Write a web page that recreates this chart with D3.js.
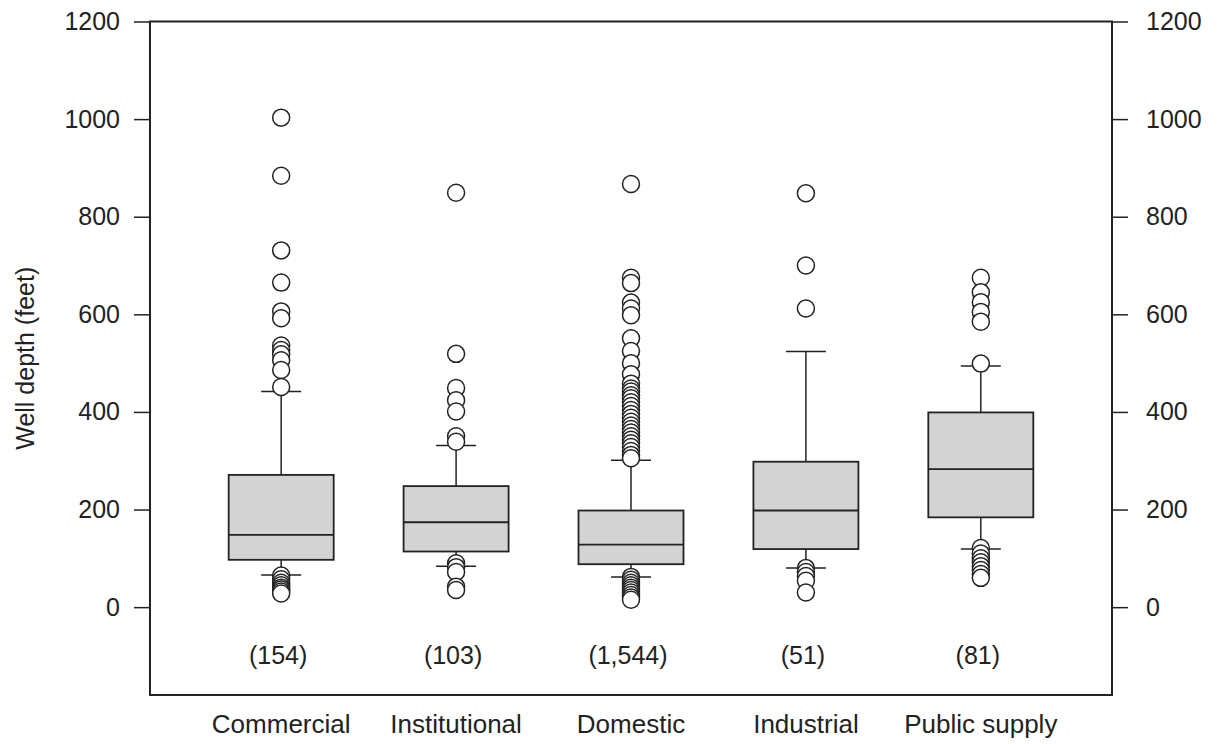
<!DOCTYPE html>
<html>
<head>
<meta charset="utf-8">
<script src="https://cdn.jsdelivr.net/npm/d3@7"></script>
<style>
  body { margin: 0; background: #fff; }
  svg { display: block; }
  text { font-family: "Liberation Sans", Arial, sans-serif; fill: #222; }
</style>
</head>
<body>
<div id="chart"></div>
<script>
// categories and counts
var categories = ["Commercial", "Institutional", "Domestic", "Industrial", "Public supply"];
var counts = ["(154)", "(103)", "(1,544)", "(51)", "(81)"];

// box statistics (feet)
var whiskerLow  = [66, 84, 62, 80, 119];
var q1          = [97, 114, 88, 119, 184];
var medians     = [148, 174, 128, 198, 283];
var q3          = [271, 248, 198, 298, 399];
var whiskerHigh = [442, 331, 301, 524, 494];

// outliers per category
var outliers = [
  [1003, 884, 731, 665, 606, 592, 536, 527, 518, 506, 486, 451,
   65, 57, 50, 45, 40, 36, 32, 28],
  [849, 519, 449, 424, 401, 350, 339,
   90, 82, 72, 42, 35],
  [867, 675, 664, 624, 612, 598, 551, 525, 500, 477, 458, 448, 442, 434, 428,
   420, 412, 404, 396, 388, 380, 372, 365, 358, 350, 343, 336, 328, 320, 312, 305,
   62, 56, 50, 45, 40, 35, 30, 25, 20, 15],
  [848, 700, 612,
   80, 72, 64, 54, 30],
  [675, 645, 625, 605, 585, 499,
   121, 110, 100, 92, 84, 76, 68, 60]
];

var yTicks = [0, 200, 400, 600, 800, 1000, 1200];

var W = 1217, H = 744;
var m = {t: 21.5, r: 105, b: 49, l: 150};

var svg = d3.select("#chart").append("svg")
    .attr("width", W)
    .attr("height", H);

var y = d3.scaleLinear().domain([-180, 1200]).range([H - m.b, m.t]);
var x = d3.scalePoint().domain(categories).range([m.l, W - m.r]).padding(0.75);

var minorTicks = d3.range(-150, 1201, 50);

// left axis
var gL = svg.append("g").attr("transform", "translate(" + m.l + ",0)");
gL.call(d3.axisLeft(y).tickValues(minorTicks).tickSize(7).tickFormat(""));
gL.call(d3.axisLeft(y).tickValues(yTicks).tickSize(16).tickPadding(14).tickFormat(d3.format("d")));

// right axis
var gR = svg.append("g").attr("transform", "translate(" + (W - m.r) + ",0)");
gR.call(d3.axisRight(y).tickValues(minorTicks).tickSize(7).tickFormat(""));
gR.call(d3.axisRight(y).tickValues(yTicks).tickSize(16).tickPadding(18).tickFormat(d3.format("d")));

svg.selectAll(".domain").remove();
svg.selectAll(".tick line").attr("stroke", "#222").attr("stroke-width", 1.5);
svg.selectAll(".tick text")
    .style("font-size", "25px")
    .style("font-family", "'Liberation Sans', Arial, sans-serif")
    .attr("fill", "#222");

// frame
svg.append("rect")
    .attr("x", m.l)
    .attr("y", m.t)
    .attr("width", W - m.r - m.l)
    .attr("height", H - m.b - m.t)
    .attr("fill", "none")
    .attr("stroke", "#222")
    .attr("stroke-width", 2);

// y label
svg.append("text")
    .attr("transform", "translate(34," + ((m.t + H - m.b) / 2) + ") rotate(-90)")
    .style("text-anchor", "middle")
    .style("font-size", "25px")
    .text("Well depth (feet)");

var boxW = 105, capW = 40, r = 8.5;

var boxes = svg.selectAll(".box")
    .data(categories)
    .enter().append("g")
    .attr("class", "box")
    .attr("transform", function(d){ return "translate(" + x(d) + ",0)"; });

// whiskers
boxes.append("line")
    .attr("x1", 0).attr("x2", 0)
    .attr("y1", function(d, i){ return y(whiskerHigh[i]); })
    .attr("y2", function(d, i){ return y(whiskerLow[i]); })
    .attr("stroke", "#222").attr("stroke-width", 1.5);

boxes.append("line")
    .attr("x1", -capW / 2).attr("x2", capW / 2)
    .attr("y1", function(d, i){ return y(whiskerHigh[i]); })
    .attr("y2", function(d, i){ return y(whiskerHigh[i]); })
    .attr("stroke", "#222").attr("stroke-width", 1.5);

boxes.append("line")
    .attr("x1", -capW / 2).attr("x2", capW / 2)
    .attr("y1", function(d, i){ return y(whiskerLow[i]); })
    .attr("y2", function(d, i){ return y(whiskerLow[i]); })
    .attr("stroke", "#222").attr("stroke-width", 1.5);

// box
boxes.append("rect")
    .attr("x", -boxW / 2)
    .attr("width", boxW)
    .attr("y", function(d, i){ return y(q3[i]); })
    .attr("height", function(d, i){ return y(q1[i]) - y(q3[i]); })
    .attr("fill", "#d3d3d3")
    .attr("stroke", "#222")
    .attr("stroke-width", 1.8);

boxes.append("line")
    .attr("x1", -boxW / 2).attr("x2", boxW / 2)
    .attr("y1", function(d, i){ return y(medians[i]); })
    .attr("y2", function(d, i){ return y(medians[i]); })
    .attr("stroke", "#222").attr("stroke-width", 1.8);

// outliers
boxes.each(function(d, i){
    d3.select(this).selectAll("circle")
        .data(outliers[i])
        .enter().append("circle")
        .attr("cx", 0)
        .attr("cy", function(v){ return y(v); })
        .attr("r", r)
        .attr("fill", "#fff")
        .attr("stroke", "#222")
        .attr("stroke-width", 1.5);
});

// counts
svg.selectAll(".count")
    .data(categories)
    .enter().append("text")
    .attr("class", "count")
    .attr("x", function(d){ return x(d) - 3; })
    .attr("y", 664)
    .style("text-anchor", "middle")
    .style("font-size", "25px")
    .text(function(d, i){ return counts[i]; });

// category labels
svg.selectAll(".cat")
    .data(categories)
    .enter().append("text")
    .attr("class", "cat")
    .attr("x", function(d){ return x(d); })
    .attr("y", 733)
    .style("text-anchor", "middle")
    .style("font-size", "26px")
    .text(function(d){ return d; });
</script>
</body>
</html>
